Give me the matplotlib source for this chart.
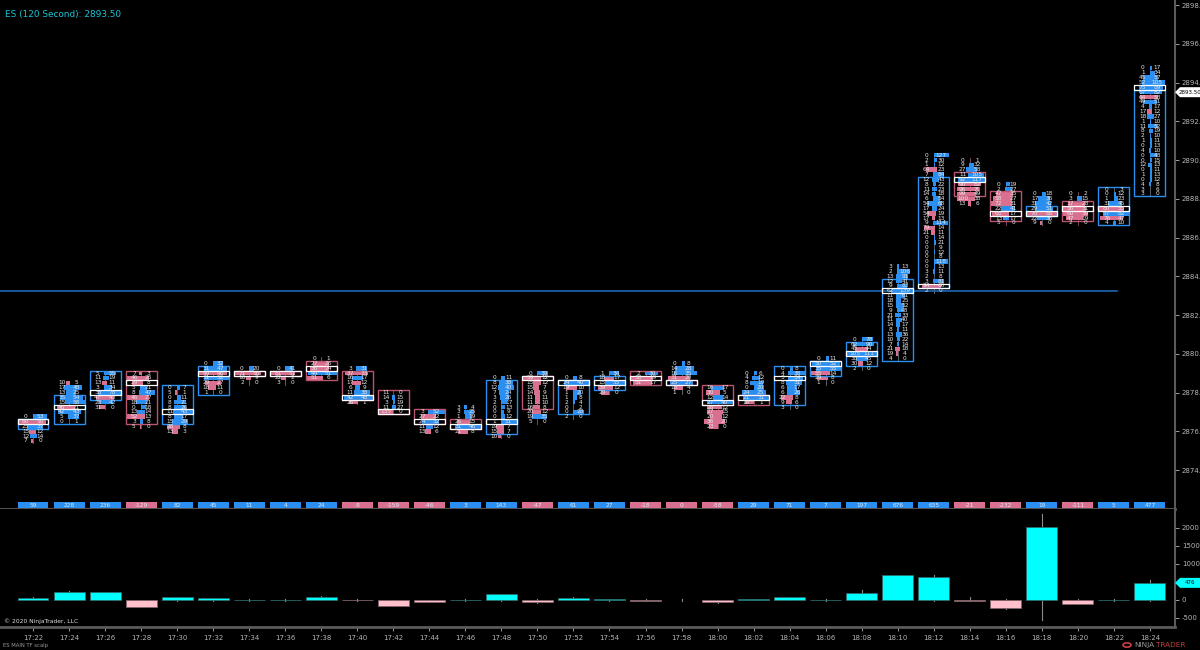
import matplotlib

matplotlib.use("Agg")
import matplotlib.pyplot as plt
import numpy as np
from matplotlib.patches import Circle, Polygon, Rectangle
from matplotlib.transforms import blended_transform_factory

# ---- data ----
bar_times = ["17:22", "17:24", "17:26", "17:28", "17:30", "17:32", "17:34", "17:36",
             "17:38", "17:40", "17:42", "17:44", "17:46", "17:48", "17:50", "17:52",
             "17:54", "17:56", "17:58", "18:00", "18:02", "18:04", "18:06", "18:08",
             "18:10", "18:12", "18:14", "18:16", "18:18", "18:20", "18:22", "18:24"]

# lowest traded price of each bar; bid/ask volumes listed from low to high
fp_low = [2875.5, 2876.5, 2877.25, 2876.25, 2876.0, 2878.0, 2878.5, 2878.5,
          2878.75, 2877.5, 2877.0, 2876.0, 2876.0, 2875.75, 2876.5, 2876.75,
          2878.0, 2878.5, 2878.0, 2876.25, 2877.5, 2877.25, 2878.5, 2879.25,
          2879.75, 2883.25, 2887.75, 2886.75, 2886.75, 2886.75, 2886.75, 2888.25]

fp_bid = [
    [7, 12, 15, 25, 60, 0],
    [0, 5, 42, 46, 15, 35, 13, 17, 10],
    [31, 28, 47, 38, 3, 13, 11, 5],
    [5, 3, 52, 13, 0, 18, 46, 8, 5, 29, 46, 7],
    [13, 28, 15, 8, 11, 8, 8, 0, 5, 0],
    [1, 18, 29, 31, 49, 31, 0],
    [2, 16, 71, 0],
    [3, 22, 81, 0],
    [51, 44, 36, 27, 0],
    [26, 42, 11, 6, 17, 16, 37, 3],
    [135, 11, 3, 14, 11],
    [13, 11, 24, 27, 3],
    [21, 31, 26, 1, 3, 3],
    [10, 15, 19, 1, 0, 0, 0, 2, 3, 7, 12, 8, 0],
    [5, 19, 20, 16, 11, 11, 14, 15, 15, 59, 0],
    [2, 0, 0, 2, 1, 1, 19, 24, 0],
    [29, 39, 15, 18, 1],
    [31, 38, 2],
    [1, 18, 25, 31, 16, 14, 0],
    [23, 36, 20, 27, 28, 27, 12, 30, 16],
    [18, 21, 24, 0, 8, 4, 0],
    [3, 9, 22, 6, 6, 8, 3, 4, 0],
    [1, 29, 55, 35, 50, 0],
    [2, 30, 38, 105, 45, 62, 0],
    [4, 19, 21, 7, 10, 13, 8, 14, 11, 21, 9, 15, 18, 11, 62, 9, 12, 13, 2, 3],
    [2, 94, 3, 2, 3, 0, 0, 0, 0, 0, 0, 0, 21, 79, 9, 17, 54, 17, 54, 6, 14, 11, 8,
     12, 7, 64, 1, 2, 0],
    [13, 100, 99, 96, 90, 92, 11, 27, 9, 0],
    [5, 13, 65, 22, 72, 58, 47, 2, 0],
    [9, 22, 70, 29, 31, 17, 0],
    [2, 47, 60, 56, 37, 3, 0],
    [4, 76, 57, 80, 31, 1, 0, 0],
    [3, 3, 4, 0, 1, 0, 12, 0, 0, 4, 0, 1, 2, 8, 11, 1, 18, 17, 4, 49, 64, 67, 75,
     52, 45, 1, 0],
]

fp_ask = [
    [0, 14, 12, 37, 50, 53],
    [1, 37, 43, 21, 58, 54, 25, 48, 5],
    [0, 42, 43, 78, 34, 11, 19, 55],
    [0, 8, 13, 14, 18, 21, 27, 47, 21, 8, 26, 3],
    [3, 8, 29, 17, 43, 26, 21, 11, 1, 7],
    [0, 11, 27, 52, 46, 47, 32],
    [0, 9, 56, 20],
    [0, 2, 51, 41],
    [6, 51, 24, 26, 1],
    [1, 48, 38, 9, 12, 17, 33, 31],
    [0, 27, 19, 15, 0],
    [6, 12, 32, 22, 52],
    [8, 46, 15, 19, 25, 4],
    [0, 7, 7, 51, 12, 9, 13, 17, 26, 24, 40, 38, 11],
    [0, 35, 12, 8, 10, 11, 9, 7, 12, 12, 39],
    [0, 28, 2, 4, 8, 20, 10, 40, 8],
    [0, 12, 55, 17, 34],
    [17, 19, 30],
    [0, 4, 27, 20, 35, 28, 8],
    [0, 20, 12, 15, 12, 40, 14, 5, 17],
    [1, 31, 25, 20, 19, 12, 6],
    [0, 6, 8, 26, 17, 31, 34, 38, 8],
    [0, 8, 14, 55, 52, 11],
    [0, 12, 45, 111, 44, 90, 78],
    [0, 4, 18, 14, 22, 36, 11, 17, 40, 33, 48, 52, 25, 61, 139, 83, 41, 91, 106, 13],
    [0, 60, 81, 8, 11, 13, 118, 8, 12, 9, 21, 14, 11, 14, 114, 13, 19, 24, 68, 54,
     18, 23, 22, 43, 84, 23, 12, 30, 127],
    [6, 38, 49, 70, 82, 117, 105, 58, 32, 1],
    [0, 17, 17, 41, 31, 27, 35, 27, 19],
    [0, 36, 68, 51, 42, 36, 18],
    [0, 19, 39, 31, 28, 15, 2],
    [10, 47, 82, 55, 45, 23, 12, 3],
    [0, 6, 8, 12, 13, 11, 13, 15, 48, 10, 13, 11, 10, 19, 52, 10, 27, 12, 17, 51,
     58, 82, 89, 105, 57, 34, 17],
]

bar_open = [2876.25, 2876.5, 2877.75, 2879.0, 2876.5, 2878.0, 2879.0, 2879.0,
            2879.5, 2879.0, 2878.0, 2877.0, 2876.5, 2876.0, 2878.75, 2877.0,
            2878.25, 2879.0, 2878.5, 2878.25, 2877.75, 2877.5, 2879.0, 2879.5,
            2879.75, 2883.5, 2889.25, 2888.25, 2887.25, 2887.75, 2886.75, 2888.25]
bar_close = [2876.5, 2877.75, 2879.0, 2876.5, 2878.25, 2879.25, 2879.0, 2879.0,
             2878.75, 2877.75, 2877.0, 2876.5, 2876.25, 2878.5, 2877.25, 2878.5,
             2878.75, 2878.5, 2878.5, 2877.5, 2877.5, 2879.25, 2879.5, 2880.5,
             2883.75, 2889.0, 2888.25, 2887.0, 2887.5, 2887.0, 2888.5, 2893.5]
bar_poc = [2876.5, 2877.25, 2878.0, 2878.5, 2877.0, 2879.0, 2879.0, 2879.0,
           2879.25, 2877.75, 2877.0, 2876.5, 2876.25, 2876.5, 2878.75, 2878.5,
           2878.5, 2878.75, 2878.5, 2877.5, 2877.75, 2878.75, 2879.5, 2880.0,
           2883.25, 2883.5, 2889.0, 2887.25, 2887.25, 2887.5, 2887.5, 2893.75]

bar_delta = [59, 228, 236, -129, 82, 45, 11, 4, 24, -8, -159, -46, 3, 143, -47, 61,
             27, -18, 0, -58, 29, 71, 7, 197, 676, 635, -21, -232, 19, -111, 5, 477]

# lower panel candles (open at zero)
cd_close = [59, 228, 213, -185, 82, 45, 11, 4, 74, -8, -175, -46, 3, 157, -47, 64,
            27, -18, 0, -64, 29, 74, 7, 203, 686, 630, -21, -222, 2036, -111, 5, 472]
cd_high = [70, 250, 230, 0, 95, 60, 30, 20, 100, 15, 0, 0, 25, 160, 20, 70,
           30, 30, 30, 0, 30, 80, 25, 278, 690, 694, 74, 20, 2380, 20, 30, 555]
cd_low = [0, 0, 0, -190, -20, -20, -30, -20, 0, -20, -180, -60, -25, -20, -80, 0,
          -40, -20, -30, -80, 0, 0, -25, 0, 0, -30, -30, -240, -555, -115, -30, -20]

price_ticks = [2874, 2876, 2878, 2880, 2882, 2884, 2886, 2888, 2890, 2892, 2894, 2896, 2898]
delta_ticks = [-500, 0, 1000, 1500, 2000]
ref_level = 2883.25
last_price = 2893.50
last_delta = 476

# ---- style ----
TICK = 0.25
HALF = 0.43
BLUE = "#2a8ff0"
PINK = "#d9708f"
BOX_DOWN = "#b8556f"
TXT = "#e6e6e6"
AXC = "#5a5a5a"

W, H = 1200, 650
fig = plt.figure(figsize=(W / 100, H / 100), dpi=100, facecolor="black")
ax = fig.add_axes([0, (H - 509) / H, 1175 / W, 509 / H], facecolor="black")
axd = fig.add_axes([0, (H - 627) / H, 1175 / W, 118 / H], facecolor="black")

n = len(bar_times)
x0, dx = 33, 36.03
xlim = (-x0 / dx, (1175 - x0) / dx)
ax.set_xlim(xlim)
axd.set_xlim(xlim)
ax.set_ylim(2898 - 504 / 19.375, 2898 + 5 / 19.375)
axd.set_ylim(-27 / 0.036, 91 / 0.036)

for a in (ax, axd):
    for s in ("top", "left"):
        a.spines[s].set_visible(False)
    a.spines["right"].set_color(AXC)
    a.spines["bottom"].set_color(AXC)
    a.spines["right"].set_linewidth(1.5)
    a.spines["bottom"].set_linewidth(2)
    a.yaxis.tick_right()
    a.tick_params(axis="y", colors="#b5b5b5", labelsize=5, length=3, width=0.6,
                  direction="out", pad=2)

ax.set_yticks(price_ticks)
ax.set_yticklabels([f"{p:.2f}" for p in price_ticks])
ax.set_xticks([])
axd.set_yticks(delta_ticks)
axd.set_yticklabels([str(v) for v in delta_ticks])
axd.set_xticks(range(n))
axd.set_xticklabels(bar_times)
axd.tick_params(axis="x", colors="#b5b5b5", labelsize=5, length=3, width=0.6, pad=3)

# reference level line
ax.plot([xlim[0], (1117 - x0) / dx], [ref_level, ref_level], color="#1f6fc5", lw=1.1, zorder=1)

# ---- footprint bars ----
for i in range(n):
    bids = fp_bid[i]
    asks = fp_ask[i]
    prices = fp_low[i] + TICK * np.arange(len(bids))
    up = bar_close[i] >= bar_open[i]
    vmax = max(max(bids), max(asks), 1)
    ax.plot([i, i], [prices[0] - TICK * 0.4, prices[-1] + TICK * 0.4],
            color="#7a4558" if not up else "#55606e", lw=0.7, zorder=2)
    for p, b, a in zip(prices, bids, asks):
        col = BLUE if a > b else PINK
        left = HALF * b / vmax
        right = HALF * a / vmax
        if left + right > 0.04:
            ax.add_patch(Rectangle((i - left, p - TICK * 0.47), left + right, TICK * 0.94,
                                   facecolor=col, edgecolor="none", zorder=3))
        ax.text(i - 0.2, p, str(b), color=TXT, fontsize=4.2, ha="center", va="center", zorder=6)
        ax.text(i + 0.2, p, str(a), color=TXT, fontsize=4.2, ha="center", va="center", zorder=6)
    lo_b = min(bar_open[i], bar_close[i]) - TICK / 2
    hi_b = max(bar_open[i], bar_close[i]) + TICK / 2
    ax.add_patch(Rectangle((i - HALF, lo_b), 2 * HALF, hi_b - lo_b, fill=False,
                           edgecolor=BLUE if up and bar_close[i] != bar_open[i] else BOX_DOWN,
                           lw=1.0, zorder=4))
    ax.add_patch(Rectangle((i - HALF, bar_poc[i] - TICK / 2), 2 * HALF, TICK, fill=False,
                           edgecolor="white", lw=0.9, zorder=5))

# ---- delta row at bottom of price panel ----
tr = blended_transform_factory(ax.transData, ax.transAxes)
for i, d in enumerate(bar_delta):
    ax.add_patch(Rectangle((i - HALF, 0.002), 2 * HALF, 0.011, transform=tr,
                           facecolor=BLUE if d > 0 else PINK, edgecolor="none", zorder=5))
    ax.text(i, 0.0075, str(d), transform=tr, color="#dfe8f5", fontsize=4.2,
            ha="center", va="center", zorder=6)

# ---- lower panel candles ----
for i in range(n):
    c = cd_close[i]
    axd.plot([i, i], [cd_low[i], cd_high[i]], color="#8a8a8a", lw=0.8, zorder=2)
    if c != 0:
        axd.add_patch(Rectangle((i - HALF, min(0, c)), 2 * HALF, abs(c),
                                facecolor="#00ffff" if c > 0 else "#ffc0cb",
                                edgecolor="#2a6a6a" if c > 0 else "#806068",
                                lw=0.6, zorder=3))

# ---- text and markers ----
fig.text(5 / W, 1 - 15 / H, "ES (120 Second): 2893.50", color="#19c6d6", fontsize=6.4,
         ha="left", va="center")
fig.text(4 / W, 1 - 621 / H, "\u00a9 2020 NinjaTrader, LLC", color="#e0e0e0", fontsize=4.3,
         ha="left", va="center")
fig.text(3 / W, 1 - 645 / H, "ES MAIN TF scalp", color="#9a9a9a", fontsize=3.8,
         ha="left", va="center")
fig.text(1134 / W, 1 - 645 / H, "NINJA", color="#9a9a9a", fontsize=5.2, ha="left", va="center")
fig.text(1156 / W, 1 - 645 / H, "TRADER", color="#c84040", fontsize=5.2, ha="left", va="center")
fig.patches.append(Circle((1127 / W, 1 - 645 / H), 4 / W, transform=fig.transFigure,
                          fill=False, edgecolor="#c84040", lw=1.2))


def price_flag(axis, y, label, face, tcol):
    trf = blended_transform_factory(fig.transFigure, axis.transData)
    yl, yh = axis.get_ylim()
    half = (yh - yl) * (5 / (axis.bbox.height))
    pts = [(1175 / W, y), (1180 / W, y + half), (1200 / W, y + half),
           (1200 / W, y - half), (1180 / W, y - half)]
    axis.add_patch(Polygon(pts, closed=True, transform=trf, facecolor=face,
                           edgecolor="none", clip_on=False, zorder=10))
    axis.text(1190 / W, y, label, transform=trf, color=tcol, fontsize=4.0,
              ha="center", va="center", clip_on=False, zorder=11)


price_flag(ax, last_price, f"{last_price:.2f}", "white", "black")
price_flag(axd, last_delta, str(last_delta), "#00ffff", "black")

fig.savefig("out.png", dpi=100, facecolor="black")
